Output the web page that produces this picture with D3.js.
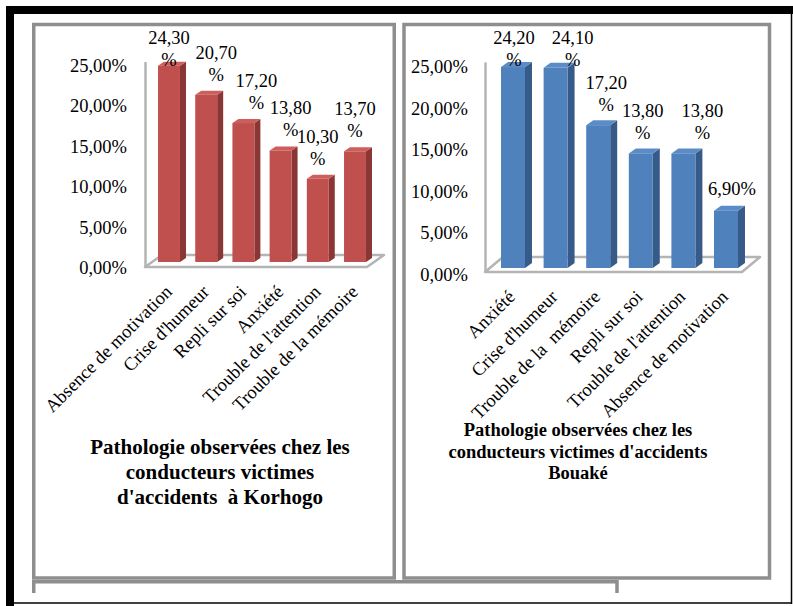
<!DOCTYPE html>
<html>
<head>
<meta charset="utf-8">
<script src="https://cdn.jsdelivr.net/npm/d3@7/dist/d3.min.js"></script>
<style>
  html, body { margin: 0; padding: 0; background: #fff; }
  svg { display: block; }
  text { font-family: "Liberation Serif", "Times New Roman", serif; fill: #000; white-space: pre; }
</style>
</head>
<body>
<svg id="chart" width="793" height="606"></svg>
<script>
// Korhogo survey
const categoriesK = ["Absence de motivation", "Crise d'humeur", "Repli sur soi", "Anxiété", "Trouble de l'attention", "Trouble de la mémoire"];
const valuesK = [24.3, 20.7, 17.2, 13.8, 10.3, 13.7];
const titleK = ["Pathologie observées chez les", "conducteurs victimes", "d'accidents  à Korhogo"];

// Bouaké survey
const categoriesB = ["Anxiété", "Crise d'humeur", "Trouble de la  mémoire", "Repli sur soi", "Trouble de l'attention", "Absence de motivation"];
const valuesB = [24.2, 24.1, 17.2, 13.8, 13.8, 6.9];
const titleB = ["Pathologie observées chez les", "conducteurs victimes d'accidents", "Bouaké"];

// shared value axis
const tickValues = [0, 5, 10, 15, 20, 25];

const fmt = v => v.toFixed(2).replace(".", ",") + "%";

const svg = d3.select("#chart");

// page frame
svg.append("rect").attr("x", 6).attr("y", 6).attr("width", 8).attr("height", 600).attr("fill", "#000");
svg.append("rect").attr("x", 6).attr("y", 6).attr("width", 787).attr("height", 8).attr("fill", "#000");
svg.append("line").attr("x1", 791.5).attr("x2", 791.5).attr("y1", 6).attr("y2", 604).attr("stroke", "#000").attr("stroke-width", 1.5);
svg.append("line").attr("x1", 6).attr("x2", 792).attr("y1", 603).attr("y2", 603).attr("stroke", "#000").attr("stroke-width", 1.5);

// boxes around each figure
const boxStroke = "#8e8e8e";
svg.append("rect").attr("x", 33.75).attr("y", 24.5).attr("width", 360.5).attr("height", 553.5)
  .attr("fill", "none").attr("stroke", boxStroke).attr("stroke-width", 3.5);
svg.append("rect").attr("x", 404).attr("y", 24.5).attr("width", 365.5).attr("height", 553.5)
  .attr("fill", "none").attr("stroke", boxStroke).attr("stroke-width", 3.5);
svg.append("path").attr("d", "M33.75,593 V581.75 H617 V593")
  .attr("fill", "none").attr("stroke", boxStroke).attr("stroke-width", 3.5);

// layout of the two 3-D column charts
const panels = [
  {
    cats: categoriesK, vals: valuesK, title: titleK,
    front: "#c0504d", side: "#8a3634", top: "#cc5e5b",
    band: [150.4, 373.6], padIn: 0.41, padOut: 0.205,
    yRange: [262, 60], tickX: 127, tickDy: 6,
    depth: [6, -4],
    wallX: 145.5, floorY: 267, floorX: [145, 367], floorDepth: [17, -12],
    labelDx: [0, 10, 13, 10, 0, 0],
    catDy: 26, catDx: 4,
    titleX: 220, titleY: 447, titleSize: 21, titleGap: 25
  },
  {
    cats: categoriesB, vals: valuesB, title: titleB,
    front: "#4f81bd", side: "#375b88", top: "#5b8cc8",
    band: [491.7, 747.3], padIn: 0.437, padOut: 0.2185,
    yRange: [268, 60.4], tickX: 468, tickDy: 7,
    depth: [7, -5],
    wallX: 485.5, floorY: 272, floorX: [485, 742], floorDepth: [18, -15],
    labelDx: [1, 17, 8, 2, 19, 6],
    catDy: 26, catDx: 3,
    titleX: 578, titleY: 430, titleSize: 18.5, titleGap: 21.5
  }
];

const fontSize = 18.5;

panels.forEach(p => {
  const g = svg.append("g");
  const x = d3.scaleBand().domain(p.cats).range(p.band).paddingInner(p.padIn).paddingOuter(p.padOut);
  const y = d3.scaleLinear().domain([0, 25]).range(p.yRange);
  const [dx, dy] = p.depth;

  // vertical axis line on the wall
  g.append("line").attr("x1", p.wallX).attr("x2", p.wallX)
    .attr("y1", y(25) + 2).attr("y2", p.floorY)
    .attr("stroke", "#b4b4b4").attr("stroke-width", 2.5);

  // floor
  const [fx0, fx1] = p.floorX, [fdx, fdy] = p.floorDepth;
  g.append("path")
    .attr("d", `M${fx0},${p.floorY} L${fx1},${p.floorY} L${fx1 + fdx},${p.floorY + fdy} L${fx0 + fdx},${p.floorY + fdy} Z`)
    .attr("fill", "#fff").attr("stroke", "#b4b4b4").attr("stroke-width", 2.5).attr("stroke-linejoin", "round");

  // tick labels
  g.selectAll("text.tick").data(tickValues).join("text")
    .attr("class", "tick")
    .attr("x", p.tickX).attr("y", d => y(d) + p.tickDy)
    .attr("text-anchor", "end").attr("dominant-baseline", "central")
    .attr("font-size", fontSize)
    .text(d => fmt(d));

  const data = p.cats.map((c, i) => ({ c, v: p.vals[i], i }));
  const bars = g.selectAll("g.bar").data(data).join("g").attr("class", "bar");

  // right-hand side face
  bars.append("path")
    .attr("d", d => {
      const x1 = x(d.c) + x.bandwidth(), t = y(d.v), b = y(0);
      return `M${x1},${t} L${x1 + dx},${t + dy} L${x1 + dx},${b + dy} L${x1},${b} Z`;
    })
    .attr("fill", p.side);
  // top face
  bars.append("path")
    .attr("d", d => {
      const x0 = x(d.c), x1 = x0 + x.bandwidth(), t = y(d.v);
      return `M${x0},${t} L${x0 + dx},${t + dy} L${x1 + dx},${t + dy} L${x1},${t} Z`;
    })
    .attr("fill", p.top);
  // front face
  bars.append("rect")
    .attr("x", d => x(d.c)).attr("y", d => y(d.v))
    .attr("width", x.bandwidth()).attr("height", d => y(0) - y(d.v))
    .attr("fill", p.front);

  // value labels (wrapped after the number when long)
  data.forEach(d => {
    const s = fmt(d.v);
    const cx = x(d.c) + x.bandwidth() / 2 + p.labelDx[d.i];
    const t = y(d.v);
    const lines = s.length > 5 ? [s.slice(0, -1), "%"] : [s];
    const first = lines.length > 1 ? Math.max(38, t - 42) : t - 22;
    lines.forEach((ln, k) => {
      g.append("text")
        .attr("x", cx).attr("y", first + k * 22)
        .attr("text-anchor", "middle").attr("dominant-baseline", "central")
        .attr("font-size", fontSize)
        .text(ln);
    });
  });

  // category labels, rotated
  g.selectAll("text.cat").data(p.cats).join("text")
    .attr("class", "cat")
    .attr("font-size", fontSize)
    .attr("text-anchor", "end")
    .attr("transform", c => `translate(${x(c) + x.bandwidth() / 2 + p.catDx},${p.floorY + p.catDy}) rotate(-45)`)
    .text(c => c);

  // caption
  g.selectAll("text.title").data(p.title).join("text")
    .attr("class", "title")
    .attr("x", p.titleX).attr("y", (d, i) => p.titleY + i * p.titleGap)
    .attr("text-anchor", "middle").attr("dominant-baseline", "central")
    .attr("font-size", p.titleSize).attr("font-weight", "bold")
    .text(d => d);
});
</script>
</body>
</html>
